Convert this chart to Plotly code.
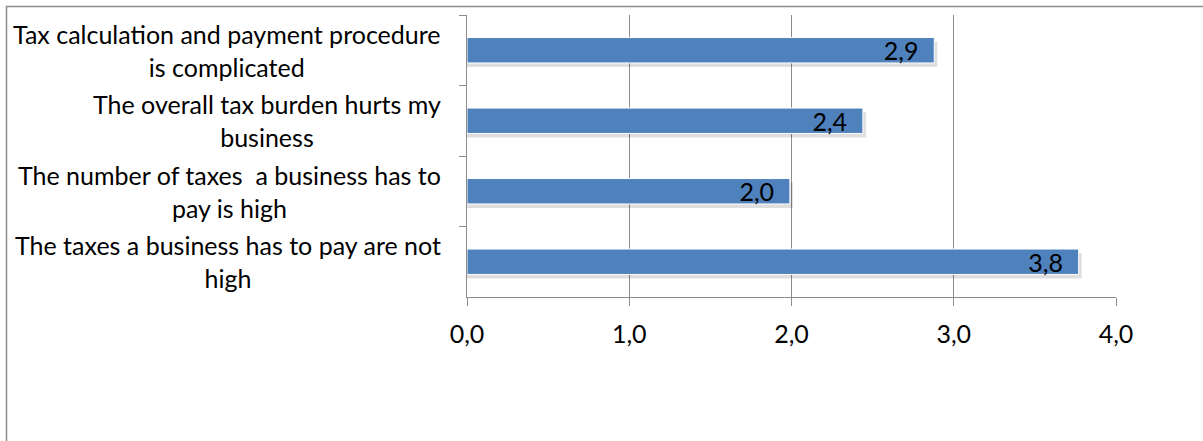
import plotly.graph_objects as go

categories = [
    "Tax calculation and payment procedure<br>is complicated",
    "The overall tax burden hurts my<br>business",
    "The number of taxes  a business has to<br>pay is high",
    "The taxes a business has to pay are not<br>high",
]
values = [2.88, 2.44, 1.99, 3.77]
x_ticks = [0, 1, 2, 3, 4]

W, H = 1203, 441
L, R, T, B = 467, 87, 15, 144
pw, ph = W - L - R, H - T - B
FONT = "Lato"
FS = 25
BAR_W = 0.36
band_px = ph / len(categories)
px_unit_x = 4 / pw

fig = go.Figure()
# soft drop shadow under each bar
fig.add_trace(go.Bar(
    y=categories, x=[v + 3 * px_unit_x for v in values], orientation="h",
    marker=dict(color="rgba(0,0,0,0.13)", line=dict(width=0)),
    width=BAR_W, offset=-BAR_W / 2 + 4 / band_px, hoverinfo="skip",
))
fig.add_trace(go.Bar(
    y=categories, x=values, orientation="h",
    marker=dict(color="#4F81BD", line=dict(color="#FFFFFF", width=1)),
    texttemplate="%{x:.1f}\u00a0\u00a0", textposition="inside", insidetextanchor="end",
    textfont=dict(color="black", size=FS, family=FONT),
    constraintext="none", width=BAR_W, offset=-BAR_W / 2, hoverinfo="skip",
))

for c in categories:
    fig.add_annotation(
        x=0, xref="paper", y=c, yref="y", text=c, showarrow=False,
        xanchor="right", yanchor="middle", align="center", xshift=-24,
        font=dict(family=FONT, size=FS, color="black"),
    )

# outer chart frame (left + top edges visible)
fig.add_shape(type="rect", xref="paper", yref="paper",
              x0=(6.5 - L) / pw, x1=(W + 10 - L) / pw,
              y0=-(H + 10 - T - ph) / ph, y1=1 + (T - 6.5) / ph,
              line=dict(color="#8C8C8C", width=1.5), layer="below")

fig.update_layout(
    width=W, height=H, margin=dict(l=L, r=R, t=T, b=B, pad=0),
    paper_bgcolor="white", plot_bgcolor="white",
    separators=",.", showlegend=False, barmode="overlay",
    font=dict(family=FONT, size=FS, color="black"),
)
fig.update_xaxes(
    range=[0, 4], tickvals=x_ticks, tickformat=".1f",
    showgrid=True, gridcolor="#8C8C8C", gridwidth=1,
    showline=True, linecolor="#8C8C8C", linewidth=1,
    ticks="outside", ticklen=8, tickcolor="#8C8C8C",
    ticklabelstandoff=7, zeroline=False,
    tickfont=dict(family=FONT, size=FS),
)
fig.update_yaxes(
    autorange="reversed", showticklabels=False,
    showline=True, linecolor="#8C8C8C", linewidth=1,
    ticks="outside", ticklen=7, tickcolor="#8C8C8C", tickson="boundaries",
    showgrid=False,
)

fig.write_html("out.html")
